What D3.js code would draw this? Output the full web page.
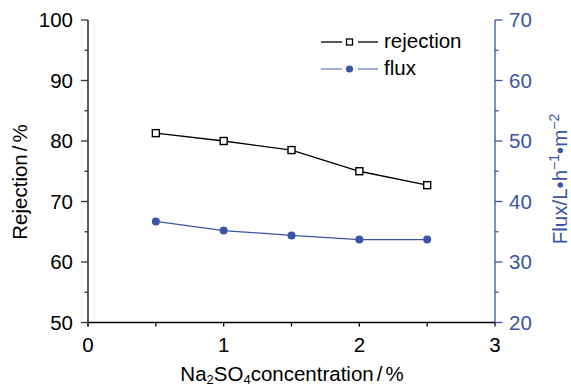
<!DOCTYPE html>
<html>
<head>
<meta charset="utf-8">
<script src="https://cdn.jsdelivr.net/npm/d3@7"></script>
<style>
  html, body { margin: 0; padding: 0; background: #fff; }
  svg { display: block; font-family: "Liberation Sans", Arial, sans-serif; }
</style>
</head>
<body>
<svg id="chart" width="571" height="387"></svg>
<script>
// Na2SO4 concentration (%) and measured performance
const concentration = [0.5, 1.0, 1.5, 2.0, 2.5];
const rejection = [81.3, 80.0, 78.5, 75.0, 72.7];
const flux = [36.7, 35.2, 34.4, 33.7, 33.7];

const xTickLabels = [0, 1, 2, 3];
const leftTickLabels = [50, 60, 70, 80, 90, 100];
const rightTickLabels = [20, 30, 40, 50, 60, 70];

const BLUE = "#3a55a5";
const TICK_FS = 20.5;
const TITLE_FS = 20.5;
const svg = d3.select("#chart");

const m = { left: 88, right: 495, top: 20, bottom: 322.5 };

const x = d3.scaleLinear().domain([0, 3]).range([m.left, m.right]);
const yL = d3.scaleLinear().domain([50, 100]).range([m.bottom, m.top]);
const yR = d3.scaleLinear().domain([20, 70]).range([m.bottom, m.top]);

// x axis: minor ticks every 0.5, labels at integers
const gx = svg.append("g").attr("transform", `translate(0,${m.bottom})`);
gx.append("line").attr("x1", m.left - 1).attr("x2", m.right).attr("stroke", "#000").attr("stroke-width", 1.3);
gx.selectAll("line.t").data(d3.range(0, 3.01, 0.5)).join("line").attr("class", "t")
  .attr("x1", d => x(d)).attr("x2", d => x(d)).attr("y1", 0).attr("y2", 4)
  .attr("stroke", "#000").attr("stroke-width", 1.3);
gx.selectAll("text").data(xTickLabels).join("text")
  .attr("x", d => x(d)).attr("y", 29.5).attr("text-anchor", "middle")
  .attr("font-size", TICK_FS).attr("fill", "#000").text(d => d);

// left axis
const gl = svg.append("g");
gl.append("line").attr("x1", m.left).attr("x2", m.left).attr("y1", m.top).attr("y2", m.bottom + 4)
  .attr("stroke", "#333").attr("stroke-width", 1.6);
gl.selectAll("line.t").data(d3.range(50, 100.1, 5)).join("line").attr("class", "t")
  .attr("x1", d => m.left - (d % 10 === 0 ? 7 : 3.5)).attr("x2", m.left)
  .attr("y1", d => yL(d)).attr("y2", d => yL(d)).attr("stroke", "#333").attr("stroke-width", 1.3);
gl.selectAll("text").data(leftTickLabels).join("text")
  .attr("x", 73).attr("y", d => yL(d) + 7.3).attr("text-anchor", "end")
  .attr("font-size", TICK_FS).attr("fill", "#000").text(d => d);

// right axis
const gr = svg.append("g");
gr.append("line").attr("x1", m.right).attr("x2", m.right).attr("y1", m.top).attr("y2", m.bottom)
  .attr("stroke", BLUE).attr("stroke-width", 1.3);
gr.selectAll("line.t").data(d3.range(20, 70.1, 5)).join("line").attr("class", "t")
  .attr("x1", m.right).attr("x2", d => m.right + (d % 10 === 0 ? 7.5 : 3.5))
  .attr("y1", d => yR(d)).attr("y2", d => yR(d)).attr("stroke", BLUE).attr("stroke-width", 1.3);
gr.selectAll("text").data(rightTickLabels).join("text")
  .attr("x", 509).attr("y", d => yR(d) + 7.3).attr("text-anchor", "start")
  .attr("font-size", TICK_FS).attr("fill", BLUE).text(d => d);

// axis titles
const lt = svg.append("text").attr("transform", "translate(27,182) rotate(-90)")
  .attr("text-anchor", "middle").attr("font-size", TITLE_FS).attr("fill", "#000");
lt.append("tspan").text("Rejection");
lt.append("tspan").attr("dx", 3).text("/");
lt.append("tspan").attr("dx", 3).text("%");

const xt = svg.append("text").attr("x", 292).attr("y", 380.5).attr("text-anchor", "middle")
  .attr("font-size", TITLE_FS).attr("fill", "#000");
xt.append("tspan").text("Na");
xt.append("tspan").attr("font-size", 13).attr("dy", 3.5).text("2");
xt.append("tspan").attr("dy", -3.5).text("SO");
xt.append("tspan").attr("font-size", 13).attr("dy", 3.5).text("4");
xt.append("tspan").attr("dy", -3.5).text("concentration");
xt.append("tspan").attr("dx", 3).text("/");
xt.append("tspan").attr("dx", 3).text("%");

const yt = svg.append("text").attr("transform", "translate(567,179) rotate(-90)")
  .attr("text-anchor", "middle").attr("font-size", TITLE_FS).attr("fill", BLUE);
yt.append("tspan").text("Flux/L\u2022h");
yt.append("tspan").attr("font-size", 14).attr("dy", -8).text("\u22121");
yt.append("tspan").attr("dy", 8).text("\u2022m");
yt.append("tspan").attr("font-size", 14).attr("dy", -8).text("\u22122");

// series
const lineL = d3.line().x((d, i) => x(concentration[i])).y(d => yL(d));
const lineR = d3.line().x((d, i) => x(concentration[i])).y(d => yR(d));

svg.append("path").datum(rejection).attr("d", lineL).attr("fill", "none")
  .attr("stroke", "#000").attr("stroke-width", 1.3);
svg.append("path").datum(flux).attr("d", lineR).attr("fill", "none")
  .attr("stroke", BLUE).attr("stroke-width", 1.3);

svg.selectAll("rect.rej").data(rejection).join("rect").attr("class", "rej")
  .attr("x", (d, i) => x(concentration[i]) - 3.5).attr("y", d => yL(d) - 3.5)
  .attr("width", 7).attr("height", 7).attr("fill", "#fff").attr("stroke", "#000").attr("stroke-width", 1.4);
svg.selectAll("circle.flux").data(flux).join("circle").attr("class", "flux")
  .attr("cx", (d, i) => x(concentration[i])).attr("cy", d => yR(d)).attr("r", 4)
  .attr("fill", BLUE);

// legend
const legend = svg.append("g");
const rows = [
  { name: "rejection", y: 42, lineColor: "#000" },
  { name: "flux", y: 69, lineColor: "#6b80c4" }
];
rows.forEach(r => {
  legend.append("line").attr("x1", 321).attr("x2", 342).attr("y1", r.y).attr("y2", r.y)
    .attr("stroke", r.lineColor).attr("stroke-width", 1.3);
  legend.append("line").attr("x1", 358).attr("x2", 378).attr("y1", r.y).attr("y2", r.y)
    .attr("stroke", r.lineColor).attr("stroke-width", 1.3);
  if (r.name === "rejection") {
    legend.append("rect").attr("x", 346.5).attr("y", r.y - 3).attr("width", 6).attr("height", 6)
      .attr("fill", "#fff").attr("stroke", "#000").attr("stroke-width", 1.3);
  } else {
    legend.append("circle").attr("cx", 349.5).attr("cy", r.y).attr("r", 3.6).attr("fill", BLUE);
  }
  legend.append("text").attr("x", 384).attr("y", r.y + 5.5).attr("font-size", TITLE_FS)
    .attr("fill", "#000").text(r.name);
});
</script>
</body>
</html>
